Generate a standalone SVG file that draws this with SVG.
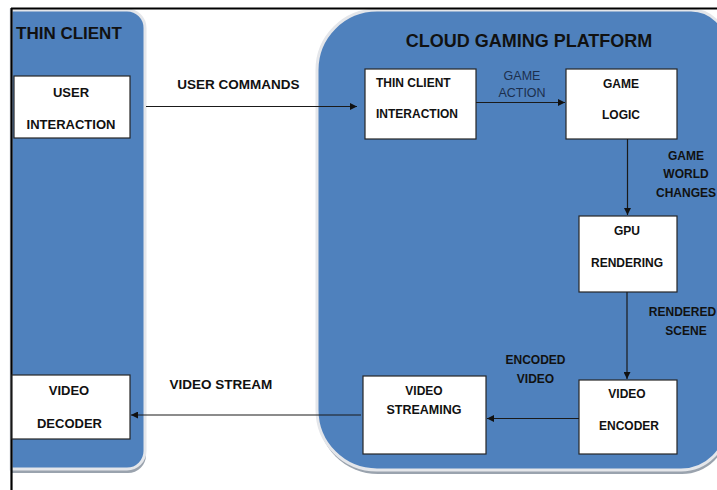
<svg xmlns="http://www.w3.org/2000/svg" width="717" height="490" viewBox="0 0 717 490">
<style>
.panel{fill:#4f81bd;stroke:#e4e6ea;stroke-width:3}
.shadow{fill:#9aa3ae}
.box{fill:#ffffff;stroke:#262626;stroke-width:1.2}
.t{font-family:"Liberation Sans",Arial,sans-serif;font-weight:bold;fill:#111111;text-anchor:middle}
.start{text-anchor:start}
.s12{font-size:12px}
.s13{font-size:13px}
.lbl{font-family:"Liberation Sans",Arial,sans-serif;font-size:12.5px;fill:#1c2f4d;text-anchor:middle}
.head{font-family:"Liberation Sans",Arial,sans-serif;font-weight:bold;font-size:18px;fill:#111111}
.conn{stroke:#1a1a1a;stroke-width:1.2;fill:none}
</style>
<defs>
<marker id="arr" viewBox="0 0 10 10" refX="10" refY="5" markerWidth="9" markerHeight="7" markerUnits="userSpaceOnUse" orient="auto">
<path d="M0,0 L10,5 L0,10 z" fill="#111111"/>
</marker>
</defs>
<rect x="0" y="0" width="717" height="490" fill="#ffffff"/>

<g id="thin-client-panel">
<path class="shadow" d="M11,13 H128 A18,18 0 0 1 146,31 V455 A18,18 0 0 1 128,473 H11 Z"/>
<path class="panel" d="M11,10 H127 A18,18 0 0 1 145,28 V451 A18,18 0 0 1 127,469 H11 Z"/>
<text class="head" x="16" y="39" style="font-size:17px">THIN CLIENT</text>
</g>

<g id="cloud-panel">
<path class="shadow" d="M378,13 H692 A36,36 0 0 1 728,49 V428 A46,46 0 0 1 682,474 H378 A60,60 0 0 1 318,414 V73 A60,60 0 0 1 378,13 Z"/>
<path class="panel" d="M377,10 H691 A36,36 0 0 1 727,46 V424 A46,46 0 0 1 681,470 H377 A60,60 0 0 1 317,410 V70 A60,60 0 0 1 377,10 Z"/>
<text class="head" x="529" y="47" text-anchor="middle">CLOUD GAMING PLATFORM</text>
</g>

<g id="frame">
<line x1="11" y1="8.5" x2="717" y2="8.5" stroke="#000" stroke-width="2.2"/>
<line x1="11.5" y1="8" x2="11.5" y2="490" stroke="#000" stroke-width="2.2"/>
</g>

<g id="user-interaction">
<rect class="box" x="14" y="76" width="116" height="62"/>
<text class="t s13" x="71" y="97">USER</text>
<text class="t s13" x="71" y="129">INTERACTION</text>
</g>

<g id="video-decoder">
<rect class="box" x="12" y="375" width="118" height="64"/>
<text class="t s13" x="69" y="395">VIDEO</text>
<text class="t s13" x="69.5" y="428">DECODER</text>
</g>

<g id="thin-client-interaction">
<rect class="box" x="365" y="69" width="111" height="70"/>
<text class="t s12 start" x="376" y="87">THIN CLIENT</text>
<text class="t s12 start" x="376" y="118">INTERACTION</text>
</g>

<g id="game-logic">
<rect class="box" x="566" y="69" width="111" height="70"/>
<text class="t s12" x="621" y="88">GAME</text>
<text class="t s12" x="621" y="119">LOGIC</text>
</g>

<g id="gpu-rendering">
<rect class="box" x="579" y="216" width="98" height="76"/>
<text class="t s12" x="627" y="235">GPU</text>
<text class="t s12" x="627" y="267">RENDERING</text>
</g>

<g id="video-encoder">
<rect class="box" x="579" y="380" width="98" height="74"/>
<text class="t s12" x="627" y="398">VIDEO</text>
<text class="t s12" x="629" y="430">ENCODER</text>
</g>

<g id="video-streaming">
<rect class="box" x="363" y="376" width="123" height="78"/>
<text class="t s12" x="424" y="395">VIDEO</text>
<text class="t" x="424" y="414" style="font-size:12.5px">STREAMING</text>
</g>

<g id="connectors">
<line class="conn" x1="146" y1="106.5" x2="357" y2="106.5" marker-end="url(#arr)"/>
<line class="conn" x1="476" y1="102.5" x2="565" y2="102.5" marker-end="url(#arr)"/>
<line class="conn" x1="627.5" y1="139" x2="627.5" y2="215" marker-end="url(#arr)"/>
<line class="conn" x1="627" y1="292" x2="627" y2="379" marker-end="url(#arr)"/>
<line class="conn" x1="579" y1="418.5" x2="487" y2="418.5" marker-end="url(#arr)"/>
<line class="conn" x1="361" y1="415" x2="131" y2="415" marker-end="url(#arr)"/>

<text class="t" x="238.5" y="89" style="font-size:13.5px">USER COMMANDS</text>
<text class="lbl" x="522" y="80">GAME</text>
<text class="lbl" x="522" y="97">ACTION</text>
<text class="t s12" x="686" y="160">GAME</text>
<text class="t s12" x="686" y="178">WORLD</text>
<text class="t s12" x="686" y="197">CHANGES</text>
<text class="t s12" x="682.5" y="316">RENDERED</text>
<text class="t s12" x="686" y="335">SCENE</text>
<text class="t s12" x="535.5" y="364">ENCODED</text>
<text class="t s12" x="535.5" y="383">VIDEO</text>
<text class="t" x="221" y="389" style="font-size:13.5px">VIDEO STREAM</text>
</g>
</svg>
